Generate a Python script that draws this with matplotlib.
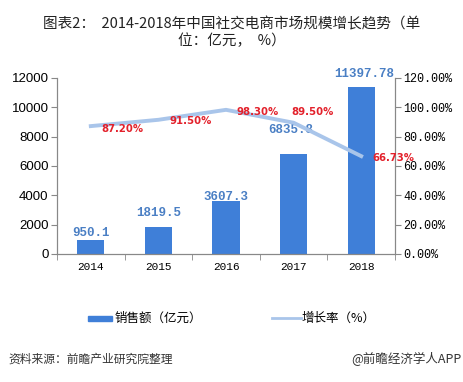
import matplotlib
matplotlib.use('Agg')
import matplotlib.pyplot as plt
import numpy as np
from matplotlib.patches import Rectangle
from matplotlib.lines import Line2D

plt.rcParams['font.family'] = ['Noto Sans CJK SC', 'DejaVu Sans']

# data
years = ['2014', '2015', '2016', '2017', '2018']
sales = [950.1, 1819.5, 3607.3, 6835.8, 11397.78]
sales_labels = ['950.1', '1819.5', '3607.3', '6835.8', '11397.78']
growth = [87.20, 91.50, 98.30, 89.50, 66.73]
growth_labels = ['87.20%', '91.50%', '98.30%', '89.50%', '66.73%']

bar_color = '#3f7fd8'
line_color = '#a9c5ea'
grey = '#888888'

fig = plt.figure(figsize=(4.64, 3.82), dpi=100)
ax = fig.add_axes([57/464, 1-254/382, (395-57)/464, (254-78)/382])
ax2 = ax.twinx()

x = np.arange(len(years))
ax.bar(x, sales, width=0.4, color=bar_color, zorder=2)
ax.set_xlim(-0.5, len(years)-0.5)
ax.set_ylim(0, 12000)
ax.set_yticks(np.arange(0, 12001, 2000))
ax.set_xticks(x)
ax.set_xticklabels(years, fontsize=8, family=['Liberation Mono'])
ax.set_xticks(np.arange(-0.5, len(years), 1), minor=True)
ax.tick_params(axis='x', which='major', length=0, pad=6)
ax.tick_params(axis='x', which='minor', length=4, color=grey, direction='out')
ax.tick_params(axis='y', length=4, color=grey, labelsize=9.5, pad=2)
for lab in ax.get_yticklabels():
    lab.set_family('Liberation Sans')

ax2.plot(x, growth, color=line_color, lw=2.8, zorder=3)
ax2.set_ylim(0, 120)
ax2.set_yticks(np.arange(0, 121, 20))
ax2.set_yticklabels(['%.2f%%' % v for v in np.arange(0, 121, 20)],
                    fontsize=8.5, family=['Liberation Mono'])
ax2.tick_params(axis='y', length=4, color=grey, pad=2)

for a in (ax, ax2):
    a.spines['top'].set_visible(False)
    for s in ('left', 'right', 'bottom'):
        a.spines[s].set_color(grey)
        a.spines[s].set_linewidth(0.8)

# bar value labels
bar_off = [(0, 5), (0, 10), (0, 3), (-2, 17), (2, 9)]
for i, v in enumerate(sales):
    ax.annotate(sales_labels[i], (x[i], v), xytext=bar_off[i], textcoords='offset points',
                ha='center', va='center', color='#4a7fc4', fontsize=9,
                fontweight='bold', family=['Liberation Mono'])

# growth labels
g_off = [(23, -2), (23, -1), (23, -1.5), (14, 8), (23, -1)]
for i, v in enumerate(growth):
    ax2.annotate(growth_labels[i], (x[i], v), xytext=g_off[i], textcoords='offset points',
                 ha='center', va='center', color='#e3212b', fontsize=7.3,
                 fontweight='bold', family=['DejaVu Sans'])

# title
fig.text(0.5, 1-24/382, '图表2：  2014-2018年中国社交电商市场规模增长趋势（单',
         ha='center', va='center', fontsize=10.5, color='#222222')
fig.text(0.5, 1-41/382, '位：亿元，  %）', ha='center', va='center',
         fontsize=10.5, color='#222222')

# legend
fig.patches.append(Rectangle((88/464, 1-321/382), 24/464, 5/382,
                             transform=fig.transFigure, color=bar_color))
fig.text(115/464, 1-318/382, '销售额（亿元）', ha='left', va='center', fontsize=9)
fig.lines.append(Line2D([272/464, 301/464], [1-318/382, 1-318/382],
                        transform=fig.transFigure, color=line_color, lw=2))
fig.text(302/464, 1-318/382, '增长率（%）', ha='left', va='center', fontsize=9)

# footer
fig.text(8/464, 1-359/382, '资料来源：前瞻产业研究院整理', ha='left', va='center',
         fontsize=8.5, style='italic', color='#333333')
fig.text(462/464, 1-359/382, '@前瞻经济学人APP', ha='right', va='center',
         fontsize=9, color='#333333')

fig.savefig('out.png', dpi=100)
